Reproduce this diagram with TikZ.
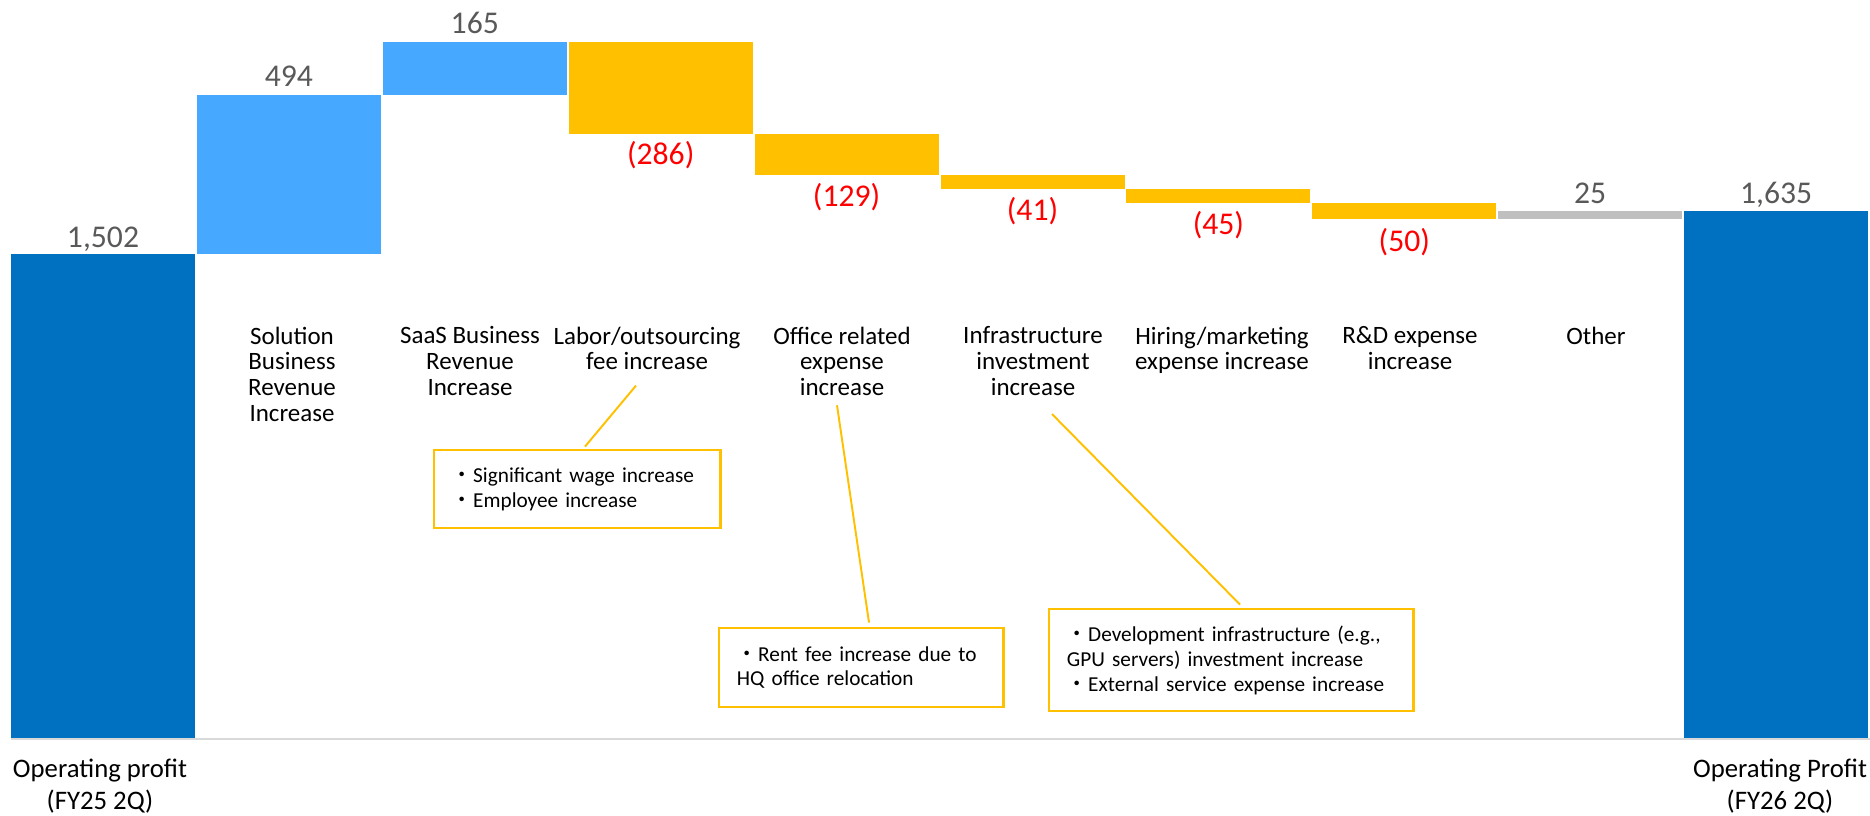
\documentclass[tikz,border=0pt]{standalone}
\usepackage{fontspec}
\setmainfont{Carlito}
\newfontfamily\jpfont{Noto Sans CJK JP}
\usetikzlibrary{
  calc
}

\definecolor{darkbar}{HTML}{0070C0}
\definecolor{lightbar}{HTML}{46A9FF}
\definecolor{barorange}{HTML}{FFC000}
\definecolor{othergray}{HTML}{BFBFBF}
\definecolor{axisgray}{HTML}{D9D9D9}
\definecolor{valgray}{HTML}{595959}
\definecolor{valred}{HTML}{FF0000}

\newcommand{\dotitem}{{\jpfont ・}}

\begin{document}
\begin{tikzpicture}[x=0.01cm, y=-0.01cm,
  every node/.style = {inner sep=0pt},
  vallab/.style = {font=\fontsize{9}{10}\selectfont, anchor=base},
  catlab/.style = {font=\fontsize{7.1}{7.3}\selectfont, align=center, anchor=north},
  endlab/.style = {font=\fontsize{7.6}{9.1}\selectfont, align=center, anchor=north},
  note/.style = {draw=barorange, line width=0.8pt, align=left,
    font=\fontsize{6.05}{7.1}\selectfont, inner xsep=0.18cm, inner ysep=0pt},
  leader/.style = {draw=barorange, line width=0.55pt}]

\useasboundingbox (0,0) rectangle (1870,815);

% axis
\draw[axisgray, line width=0.45pt] (11,739) -- (1870,739);

% bars: start value / end value
\foreach \i/\a/\b/\c in {0/0/1502/darkbar, 1/1502/1996/lightbar, 2/1996/2161/lightbar,
    3/2161/1875/barorange, 4/1875/1746/barorange, 5/1746/1705/barorange,
    6/1705/1660/barorange, 7/1660/1610/barorange, 8/1610/1635/othergray, 9/0/1635/darkbar}
  \fill[\c] ({11+185.9*\i},{738-0.3222*\a}) rectangle ({195+185.9*\i},{738-0.3222*\b});

% values
\foreach \i/\y/\t/\c in {0/247/{1,502}/valgray, 1/86/494/valgray, 2/33/165/valgray,
    3/164/(286)/valred, 4/206/(129)/valred, 5/220/(41)/valred, 6/234/(45)/valred,
    7/251/(50)/valred, 8/203/25/valgray, 9/203/{1,635}/valgray}
  \node[vallab, text=\c] (val\i) at ({103+185.9*\i},\y) {\t};

% categories
\node[catlab] (solution) at (292,326) {Solution\\Business\\Revenue\\Increase};
\node[catlab] (saas)     at (470,326) {SaaS Business\\Revenue\\Increase};
\node[catlab] (labor)    at (647,326) {Labor/outsourcing\\fee increase};
\node[catlab] (office)   at (842,326) {Office related\\expense\\increase};
\node[catlab] (infra)    at (1033,326) {Infrastructure\\investment\\increase};
\node[catlab] (hiring)   at (1222,326) {Hiring/marketing\\expense increase};
\node[catlab] (rnd)      at (1410,326) {R\&D expense\\increase};
\node[catlab] (other)    at (1596,326) {Other};

\node[endlab] (start) at (100,758) {Operating profit\\(FY25 2Q)};
\node[endlab] (end)   at (1780,758) {Operating Profit\\(FY26 2Q)};

% notes
\node[note, minimum width=2.86cm, minimum height=0.78cm, text width=2.50cm] (wage) at (577,489)
  {\dotitem Significant wage increase\\ \dotitem Employee increase};
\node[note, minimum width=2.84cm, minimum height=0.79cm, text width=2.48cm] (rent) at (861,667.5)
  {\dotitem Rent fee increase due to\\ HQ office relocation};
\node[note, minimum width=3.64cm, minimum height=1.02cm, text width=3.28cm] (gpu) at (1231,660)
  {\dotitem Development infrastructure (e.g.,\\ GPU servers) investment increase\\ \dotitem External service expense increase};

\draw[leader] ($(labor.south)+(-11,15)$) -- ($(wage.north)+(8,-2)$);
\draw[leader] ($(office.south)+(-5,9)$) -- ($(rent.north)+(8,-4)$);
\draw[leader] ($(infra.south)+(19,18)$) -- ($(gpu.north)+(9,-3)$);
\end{tikzpicture}
\end{document}
